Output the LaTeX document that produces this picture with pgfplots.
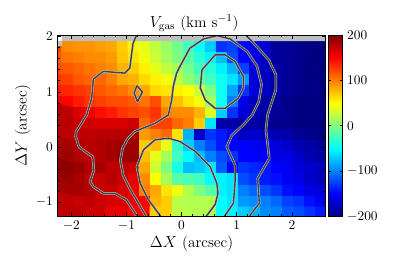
\documentclass[border=0pt]{standalone}
\usepackage{pgfplots}
\pgfplotsset{compat=1.18}
\begin{document}
\begin{tikzpicture}
\useasboundingbox (-43.125pt,-37.125pt) rectangle ++(296.25pt,199.5pt);
\begin{axis}[
  at={(0,0)},anchor=south west,
  scale only axis,width=201pt,height=136.1pt,
  xmin=-2.25,xmax=2.61,ymin=-1.26,ymax=2.03,
  xtick={-2,-1,0,1,2},ytick={-1,0,1,2},
  minor x tick num=4,minor y tick num=4,
  tick align=inside,tick pos=both,
  major tick length=3pt,minor tick length=1.6pt,
  every tick/.style={black,line width=0.5pt},
  axis line style={line width=0.7pt},
  axis on top,
  axis background/.style={fill=black!25},
  title={$V_{\rm gas}$ (km s$^{-1}$)},
  title style={yshift=-7pt,xshift=2pt,font=\fontsize{11.5}{14}\selectfont},
  xlabel={$\Delta X$ (arcsec)},ylabel={$\Delta Y$ (arcsec)},
  xlabel style={yshift=3pt,font=\fontsize{11.5}{14}\selectfont},
  ylabel style={yshift=-3pt,font=\fontsize{11.5}{14}\selectfont},
  colormap/jet,point meta min=-200,point meta max=200,
  colorbar,
  colorbar style={at={(1.0112,0.5)},anchor=west,width=10.5pt,
    ytick={-200,-100,0,100,200},major tick length=2pt,tick align=inside,
    ylabel={},axis line style={line width=0.7pt},
    yticklabel style={xshift=0pt}},
  cline/.style={no marks,draw=black!22,double=black!75,double distance=1.05pt,line width=0.4pt,line join=round},
]
\addplot[matrix plot*,mesh/cols=25,mesh/rows=16,point meta=explicit]
 table[x expr={-2.273+0.2*mod(\coordindex,25)},y expr={1.815-0.2*floor(\coordindex/25)},meta=z] {
z
125
95
92
92
88
85
70
55
40
25
10
-5
-25
-45
-70
-130
-125
-150
-160
-170
-190
-190
-195
-198
-200
115
105
100
95
95
90
72
60
45
30
15
0
-15
-35
-55
-75
-120
-150
-160
-175
-188
-190
-195
-198
-200
120
115
110
105
100
95
80
70
55
40
25
15
-5
-25
-35
-55
-80
-125
-165
-175
-185
-190
-195
-198
-200
130
125
115
110
110
100
85
80
65
55
45
25
5
-10
-25
-45
-60
-90
-165
-175
-185
-190
-195
-198
-200
140
135
130
125
115
110
105
95
85
65
60
55
50
30
0
-45
-85
-130
-165
-175
-185
-190
-195
-198
-200
155
150
140
130
125
120
120
115
105
120
85
75
60
45
15
-45
-100
-160
-175
-185
-190
-195
-198
-200
-200
180
175
165
155
145
140
130
125
120
130
100
95
95
80
35
-70
-130
-165
-180
-185
-190
-195
-198
-200
-200
180
178
172
168
165
165
165
170
110
125
125
110
100
70
-60
-185
-185
-185
-185
-190
-195
-195
-198
-200
-200
178
175
175
175
178
178
178
185
90
100
110
60
-80
-170
-130
-140
-155
-175
-170
-175
-180
-185
-190
-195
-198
185
185
182
178
180
186
188
188
70
75
40
-30
-70
-100
-120
-140
-150
-150
-155
-160
-165
-170
-180
-185
-190
188
188
180
175
180
186
190
190
75
40
15
-25
-50
-75
-100
-120
-130
-150
-150
-150
-160
-160
-170
-180
-185
195
195
190
182
186
175
175
170
85
30
0
-40
-75
-70
-60
-115
-150
-130
-135
-140
-150
-155
-165
-170
-175
190
190
186
178
172
178
172
160
95
50
15
-15
-20
-25
-50
-55
-60
-120
-130
-140
-145
-155
-160
-170
-175
185
185
185
180
172
172
165
155
100
85
60
45
20
0
-15
-55
-60
-100
-110
-120
-130
-145
-150
-160
-165
175
175
172
175
170
165
165
160
150
80
70
22
20
20
20
-50
-60
-90
-95
-100
-110
-125
-130
-145
-155
175
175
175
170
168
160
160
150
148
70
70
25
20
20
20
-50
-55
-70
-80
-95
-100
-115
-120
-130
-140
};
\addplot[fill=black!25,draw=none] coordinates {(-2.25,1.84)(-2.165,1.84)(-2.165,1.915)(-2.25,1.915)} -- cycle;
\addplot[fill=white,draw=none] coordinates {(-2.25,1.915)(-2.165,1.915)(-2.165,2.03)(-2.25,2.03)} -- cycle;
% contours
\addplot[cline] coordinates {(-0.81,2.04)(-0.88,1.88)(-0.94,1.43)(-1.03,1.34)(-1.42,1.37)(-1.60,1.23)(-1.63,0.885)(-1.72,0.58)(-1.91,0.28)(-1.92,0.19)(-1.86,0)(-1.61,-0.18)(-1.59,-0.42)(-1.66,-0.63)(-1.60,-0.72)(-1.42,-0.84)(-1.21,-0.84)(-1.0,-0.96)(-0.79,-1.28)};
\addplot[cline] coordinates {(-0.63,-1.28)(-0.94,-0.75)(-1.06,-0.51)(-1.11,-0.24)(-1.07,-0.02)(-0.97,0.16)(-0.85,0.28)(-0.48,0.43)(-0.24,0.58)(-0.18,0.85)(-0.15,1.10)(-0.09,1.34)(-0.03,1.46)(0.15,1.79)(0.40,1.96)(0.64,2.02)(0.88,1.96)(1.19,1.73)(1.37,1.46)(1.45,1.13)(1.40,0.82)(1.28,0.58)(1.12,0.40)(0.91,0.21)(0.82,0.0)(0.97,-0.33)(0.97,-0.63)(0.94,-1.02)(0.76,-1.28)};
\addplot[cline] coordinates {(1.15,2.04)(1.31,1.88)(1.58,1.58)(1.71,1.31)(1.71,1.04)(1.56,0.58)(1.53,0.31)(1.59,-0.21)(1.38,-0.57)(1.41,-1.02)(1.21,-1.28)};
\addplot[cline] coordinates {(0.61,1.67)(0.79,1.67)(0.97,1.55)(1.12,1.28)(1.12,1.07)(1.03,0.885)(0.79,0.70)(0.61,0.70)(0.43,0.85)(0.34,1.07)(0.37,1.40)(0.61,1.67)};
\addplot[cline] coordinates {(-0.81,1.11)(-0.71,1.0)(-0.80,0.82)(-0.86,0.98)(-0.81,1.11)};
\addplot[cline] coordinates {(-0.36,-1.28)(-0.60,-0.96)(-0.75,-0.66)(-0.81,-0.36)(-0.69,-0.05)(-0.48,0.13)(-0.24,0.16)(-0.03,0.10)(0.25,-0.08)(0.52,-0.36)(0.64,-0.66)(0.66,-0.84)(0.61,-1.04)(0.43,-1.28)};
\end{axis}
\end{tikzpicture}
\end{document}
